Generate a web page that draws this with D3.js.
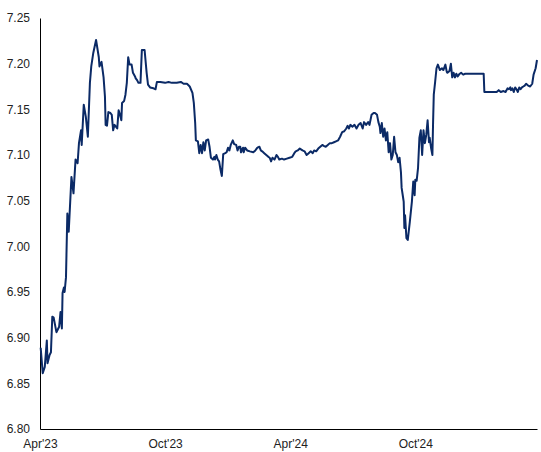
<!DOCTYPE html>
<html>
<head>
<meta charset="utf-8">
<script src="https://cdn.jsdelivr.net/npm/d3@7"></script>
<style>
  html, body { margin: 0; padding: 0; background: #fff; }
  svg { display: block; }
  .axis text { font-family: "Liberation Sans", Arial, sans-serif; font-size: 12px; fill: #222; }
  .axis path { stroke: #000; stroke-width: 1px; }
</style>
</head>
<body>
<svg id="chart" width="541" height="452"></svg>
<script>
const dates = [
"2023-04-02","2023-04-05","2023-04-08","2023-04-11","2023-04-12","2023-04-15","2023-04-17","2023-04-19","2023-04-21","2023-04-25",
"2023-04-29","2023-05-01","2023-05-03","2023-05-04","2023-05-06","2023-05-07","2023-05-09","2023-05-11","2023-05-13","2023-05-17",
"2023-05-20","2023-05-23","2023-05-26","2023-05-28","2023-05-31","2023-06-01","2023-06-04","2023-06-07","2023-06-10","2023-06-13",
"2023-06-15","2023-06-18","2023-06-22","2023-06-26","2023-06-27","2023-06-30","2023-07-03","2023-07-05","2023-07-06","2023-07-08",
"2023-07-10","2023-07-13","2023-07-15","2023-07-17","2023-07-19","2023-07-21","2023-07-23","2023-07-25","2023-07-27","2023-07-29",
"2023-07-30","2023-08-02","2023-08-04","2023-08-06","2023-08-08","2023-08-10","2023-08-13","2023-08-15","2023-08-18","2023-08-19",
"2023-08-21","2023-08-23","2023-08-26","2023-08-28","2023-09-01","2023-09-04","2023-09-06","2023-09-09","2023-09-14","2023-09-17",
"2023-09-19","2023-09-24","2023-10-01","2023-10-06","2023-10-11","2023-10-18","2023-10-24","2023-10-28","2023-11-02","2023-11-06",
"2023-11-10","2023-11-12","2023-11-14","2023-11-15","2023-11-18","2023-11-20","2023-11-22","2023-11-24","2023-11-26","2023-11-28",
"2023-11-30","2023-12-03","2023-12-05","2023-12-07","2023-12-10","2023-12-12","2023-12-13","2023-12-15","2023-12-17","2023-12-19",
"2023-12-21","2023-12-23","2023-12-25","2023-12-28","2023-12-30","2024-01-01","2024-01-03","2024-01-05","2024-01-08","2024-01-10",
"2024-01-13","2024-01-15","2024-01-17","2024-01-19","2024-01-20","2024-01-23","2024-01-24","2024-01-26","2024-01-29","2024-02-02",
"2024-02-07","2024-02-10","2024-02-13","2024-02-16","2024-02-18","2024-02-20","2024-02-23","2024-02-26","2024-02-29","2024-03-02",
"2024-03-04","2024-03-06","2024-03-09","2024-03-12","2024-03-14","2024-03-16","2024-03-20","2024-03-23","2024-03-27","2024-03-31",
"2024-04-04","2024-04-07","2024-04-09","2024-04-12","2024-04-15","2024-04-19","2024-04-22","2024-04-25","2024-04-28","2024-05-01",
"2024-05-04","2024-05-06","2024-05-09","2024-05-12","2024-05-15","2024-05-18","2024-05-20","2024-05-23","2024-05-26","2024-05-29",
"2024-06-01","2024-06-04","2024-06-07","2024-06-10","2024-06-13","2024-06-16","2024-06-19","2024-06-22","2024-06-24","2024-06-26",
"2024-06-28","2024-07-01","2024-07-04","2024-07-07","2024-07-10","2024-07-13","2024-07-16","2024-07-18","2024-07-21","2024-07-24",
"2024-07-26","2024-07-29","2024-08-01","2024-08-03","2024-08-06","2024-08-08","2024-08-10","2024-08-11","2024-08-13","2024-08-15",
"2024-08-17","2024-08-19","2024-08-21","2024-08-23","2024-08-25","2024-08-27","2024-08-29","2024-08-31","2024-09-02","2024-09-04",
"2024-09-06","2024-09-08","2024-09-10","2024-09-11","2024-09-13","2024-09-14","2024-09-15","2024-09-16","2024-09-18","2024-09-20",
"2024-09-23","2024-09-26","2024-09-28","2024-09-30","2024-10-01","2024-10-03","2024-10-05","2024-10-07","2024-10-09","2024-10-11",
"2024-10-13","2024-10-15","2024-10-17","2024-10-19","2024-10-21","2024-10-22","2024-10-24","2024-10-26","2024-10-27","2024-10-28",
"2024-10-30","2024-11-01","2024-11-03","2024-11-06","2024-11-09","2024-11-11","2024-11-14","2024-11-16","2024-11-17","2024-11-20",
"2024-11-22","2024-11-24","2024-11-26","2024-11-28","2024-11-30","2024-12-02","2024-12-05","2024-12-07","2024-12-10","2024-12-13",
"2024-12-17","2024-12-22","2024-12-27","2025-01-01","2025-01-06","2025-01-09","2025-01-10","2025-01-13","2025-01-18","2025-01-23",
"2025-01-28","2025-01-31","2025-02-03","2025-02-07","2025-02-10","2025-02-13","2025-02-15","2025-02-17","2025-02-18","2025-02-20",
"2025-02-22","2025-02-24","2025-02-26","2025-02-28","2025-03-02","2025-03-04","2025-03-06","2025-03-08","2025-03-10","2025-03-12",
"2025-03-15","2025-03-18","2025-03-21","2025-03-23","2025-03-26","2025-03-28"
];
const values = [
6.889,6.861,6.868,6.897,6.872,6.881,6.884,6.923,6.922,6.906,
6.912,6.928,6.910,6.949,6.955,6.950,6.966,7.036,7.016,7.076,
7.058,7.095,7.091,7.113,7.127,7.111,7.155,7.142,7.120,7.179,
7.197,7.212,7.226,7.207,7.197,7.202,7.185,7.164,7.133,7.132,
7.147,7.146,7.144,7.127,7.133,7.131,7.129,7.149,7.144,7.138,
7.157,7.159,7.166,7.179,7.207,7.199,7.199,7.190,7.186,7.184,
7.182,7.179,7.179,7.215,7.215,7.190,7.177,7.174,7.173,7.172,
7.180,7.180,7.179,7.180,7.179,7.179,7.180,7.178,7.178,7.175,
7.168,7.157,7.135,7.116,7.115,7.102,7.111,7.102,7.114,7.105,
7.116,7.117,7.109,7.097,7.095,7.098,7.095,7.100,7.095,7.093,
7.084,7.077,7.101,7.102,7.103,7.108,7.105,7.111,7.116,7.112,
7.111,7.105,7.109,7.109,7.103,7.108,7.103,7.108,7.105,7.104,
7.103,7.105,7.108,7.109,7.105,7.104,7.102,7.100,7.098,7.097,
7.093,7.097,7.095,7.100,7.098,7.095,7.096,7.095,7.096,7.097,
7.098,7.102,7.104,7.105,7.107,7.105,7.104,7.100,7.102,7.104,
7.102,7.105,7.104,7.107,7.109,7.111,7.110,7.109,7.111,7.113,
7.113,7.114,7.115,7.116,7.120,7.125,7.126,7.129,7.132,7.129,
7.133,7.131,7.133,7.129,7.133,7.135,7.129,7.136,7.133,7.136,
7.133,7.144,7.146,7.146,7.144,7.136,7.131,7.124,7.135,7.120,
7.129,7.116,7.125,7.103,7.113,7.095,7.100,7.120,7.103,7.100,
7.092,7.097,7.081,7.064,7.054,7.049,7.020,7.034,7.009,7.007,
7.027,7.049,7.071,7.056,7.073,7.072,7.086,7.119,7.127,7.100,
7.127,7.113,7.122,7.138,7.114,7.119,7.108,7.100,7.136,7.166,
7.180,7.195,7.199,7.193,7.195,7.193,7.199,7.191,7.190,7.192,
7.200,7.185,7.190,7.185,7.189,7.186,7.189,7.190,7.188,7.189,
7.189,7.189,7.189,7.189,7.189,7.189,7.169,7.169,7.169,7.169,
7.169,7.171,7.169,7.170,7.169,7.173,7.172,7.174,7.171,7.173,
7.169,7.174,7.172,7.169,7.174,7.172,7.174,7.175,7.176,7.178,
7.176,7.175,7.178,7.188,7.195,7.204
];
const yTicks = [6.80, 6.85, 6.90, 6.95, 7.00, 7.05, 7.10, 7.15, 7.20, 7.25];
const xTickDates = ["2023-04-01", "2023-10-01", "2024-04-01", "2024-10-01"];
const xTickLabels = ["Apr'23", "Oct'23", "Apr'24", "Oct'24"];
const xDomain = ["2023-04-01", "2025-03-28"];
const yDomain = [6.80, 7.25];

const parse = d3.utcParse("%Y-%m-%d");
const data = dates.map((d, i) => ({ date: parse(d), value: values[i] }));

const svg = d3.select("#chart");
const margin = { left: 40, right: 4, top: 18, bottom: 23 };
const W = 541, H = 452;

const x = d3.scaleUtc().domain(xDomain.map(parse)).range([margin.left, W - margin.right]);
const y = d3.scaleLinear().domain(yDomain).range([H - margin.bottom, margin.top]);

const xAxis = d3.axisBottom(x)
  .tickValues(xTickDates.map(parse))
  .tickFormat((d, i) => xTickLabels[i])
  .tickSize(0).tickPadding(10).tickSizeOuter(0);

const yAxis = d3.axisLeft(y)
  .tickValues(yTicks)
  .tickFormat(d3.format(".2f"))
  .tickSize(0).tickPadding(10).tickSizeOuter(0);

svg.append("g").attr("class", "axis")
  .attr("transform", `translate(0,${H - margin.bottom})`).call(xAxis);
svg.append("g").attr("class", "axis")
  .attr("transform", `translate(${margin.left},0)`).call(yAxis);

const line = d3.line().x(d => x(d.date)).y(d => y(d.value));
svg.append("path").datum(data)
  .attr("fill", "none")
  .attr("stroke", "#0b2a66")
  .attr("stroke-width", 2)
  .attr("stroke-linejoin", "round")
  .attr("d", line);
</script>
</body>
</html>
